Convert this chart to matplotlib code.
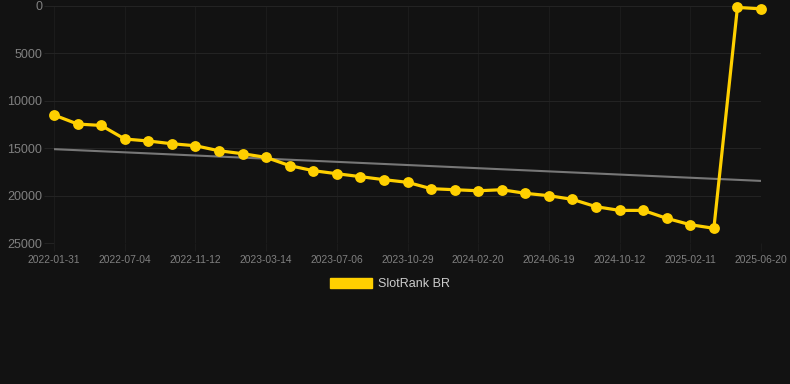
import matplotlib
matplotlib.use("Agg")
import matplotlib.pyplot as plt
from matplotlib.patches import Patch

plt.rcParams["font.family"] = ["Liberation Sans", "DejaVu Sans"]

# ---- data ----
tick_labels = ["2022-01-31", "2022-07-04", "2022-11-12", "2023-03-14", "2023-07-06",
               "2023-10-29", "2024-02-20", "2024-06-19", "2024-10-12", "2025-02-11",
               "2025-06-20"]
ranks = [11500, 12450, 12600, 14030, 14240, 14530, 14740, 15270, 15580, 15970,
         16840, 17370, 17690, 18000, 18320, 18600, 19270, 19380, 19490, 19380,
         19760, 20010, 20400, 21170, 21560, 21560, 22400, 23070, 23450, 150, 300]
trend = [15100, 18450]
series_name = "SlotRank BR"
y_ticks = [0, 5000, 10000, 15000, 20000, 25000]

bg = "#121212"
yellow = "#FFD000"
grid_h = "#232323"
grid_v = "#1b1b1b"
label_c = "#808080"

fig = plt.figure(figsize=(7.9, 3.84), dpi=100, facecolor=bg)
ax = fig.add_axes([54/790, 1-243/384, (761-54)/790, (243-6)/384])
ax.set_facecolor(bg)

x = list(range(len(ranks)))
ax.plot([x[0], x[-1]], trend, color="#777777", lw=1.5, zorder=2)
ax.plot(x, ranks, color=yellow, lw=2.3, marker="o", markersize=7.8,
        markeredgewidth=0, zorder=3, clip_on=False)

ax.set_xlim(0, len(ranks) - 1)
ax.set_ylim(25000, 0)
ax.set_yticks(y_ticks)
ax.set_yticklabels([str(v) for v in y_ticks])
tick_pos = list(range(0, len(ranks), 3))
ax.set_xticks(tick_pos)
ax.set_xticklabels(tick_labels)

ax.yaxis.grid(True, color=grid_h, lw=0.8)
ax.xaxis.grid(True, color=grid_v, lw=0.8)
ax.set_axisbelow(True)
for s in ax.spines.values():
    s.set_visible(False)
ax.tick_params(axis="y", colors=grid_h, labelcolor=label_c, labelsize=9,
               length=7, width=0.8, pad=1.5)
ax.tick_params(axis="x", colors=grid_v, labelcolor=label_c, labelsize=7.4,
               length=6, width=0.8, pad=2.5)

fig.legend(handles=[Patch(facecolor=yellow, edgecolor=yellow)], labels=[series_name],
           loc="center", bbox_to_anchor=(390/790, 1-284/384), frameon=False,
           fontsize=9, labelcolor="#cccccc", handlelength=3.3, handleheight=0.9,
           handletextpad=0.5)

fig.savefig("out.png", dpi=100, facecolor=bg)
